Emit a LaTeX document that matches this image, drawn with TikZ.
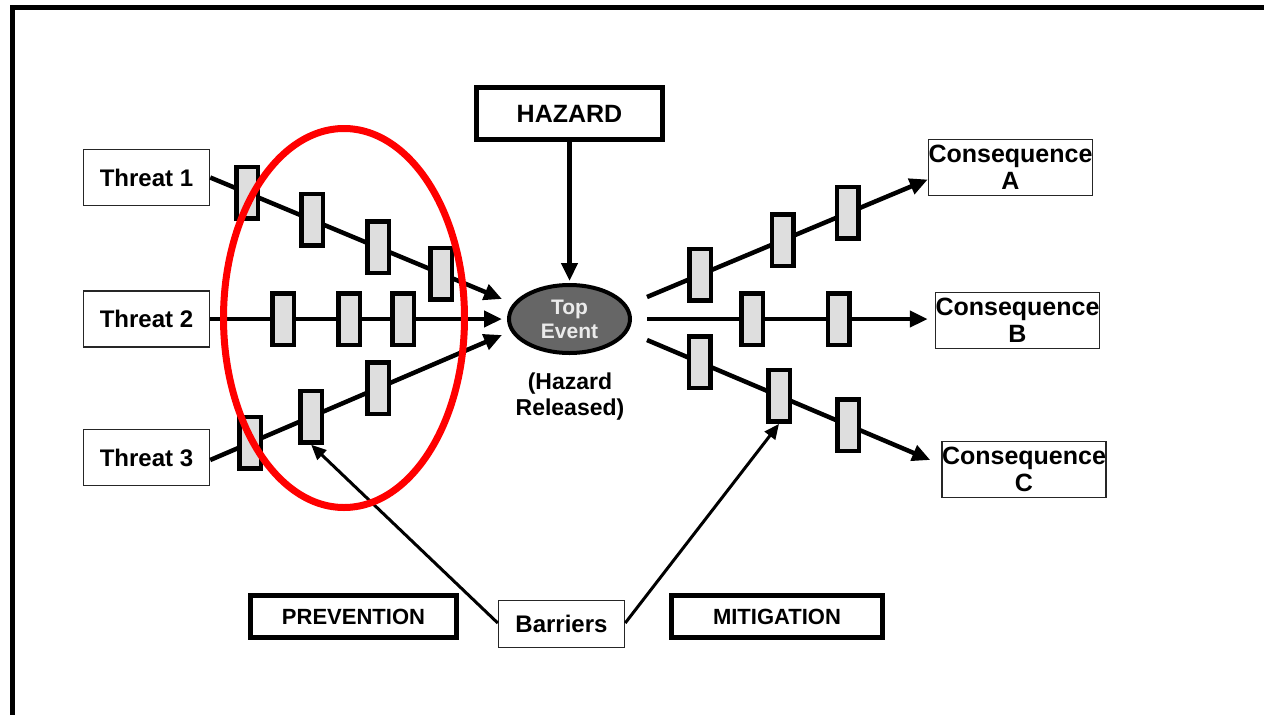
\documentclass[tikz,border=0pt]{standalone}
\usepackage{fontspec}
\setmainfont{Liberation Sans}
\usetikzlibrary{arrows.meta,shapes.geometric}
\begin{document}
\begin{tikzpicture}[x=1pt,y=-1pt,
  thinbox/.style={draw=black!85, line width=1.5pt, fill=white, inner sep=0pt, align=center,
    font=\fontsize{24}{27}\selectfont\bfseries},
  threatbox/.style={thinbox, minimum width=126pt, minimum height=56pt},
  consbox/.style={thinbox, minimum width=164pt, minimum height=56pt,
    font=\fontsize{25}{27}\selectfont\bfseries},
  boldbox/.style={draw, line width=5pt, fill=white, inner sep=0pt,
    font=\fontsize{22}{26}\selectfont\bfseries},
  barrier/.style={draw, line width=4.5pt, fill=black!13, minimum width=21.5pt,
    minimum height=51.5pt, inner sep=0pt},
  flow/.style={line width=4.5pt, -{Triangle[length=18pt,width=16pt]}},
  pointer/.style={line width=3pt, -{Triangle[length=15pt,width=13pt]}},
  plain/.style={font=\fontsize{23}{26}\selectfont\bfseries, align=center, inner sep=0pt}
]
\useasboundingbox (0,0) rectangle (1264,715);
\fill[white] (0,0) rectangle (1264,715);

% frame
\draw[line width=5pt] (12.5,720) -- (12.5,7) -- (1270,7);

% nodes
\node[threatbox] (t1) at (146.5,177.5) {Threat 1};
\node[threatbox] (t2) at (146.5,319) {Threat 2};
\node[threatbox] (t3) at (146.5,457.5) {Threat 3};

\node[boldbox, minimum width=186pt, minimum height=52pt, font=\fontsize{25}{28}\selectfont\bfseries]
  (haz) at (569.5,113.5) {HAZARD};

\node[ellipse, draw, line width=4pt, fill=black!60, minimum width=121pt, minimum height=68pt,
  inner sep=0pt, text=black!8, align=center, font=\fontsize{21}{24}\selectfont\bfseries]
  (top) at (569.5,319) {Top\\Event};

\node[plain] (rel) at (570,397) {(Hazard\\Released)};

\node[consbox] (cA) at (1010.5,167.5) {Consequence\\A};
\node[consbox] (cB) at (1017.5,320.5) {Consequence\\B};
\node[consbox] (cC) at (1024,469.5) {Consequence\\C};

\node[boldbox, minimum width=206pt, minimum height=42pt] (prev) at (353.5,616.5) {PREVENTION};
\node[boldbox, minimum width=211pt, minimum height=42pt] (mit) at (777,616.5) {MITIGATION};
\node[thinbox, minimum width=126pt, minimum height=47pt] (bar) at (561.5,624) {Barriers};

% hazard arrow
\draw[flow, shorten >=2pt] (haz.south) -- (top.north);

% threat lines with barriers
\draw[flow] (t1.east) -- ([xshift=-5pt,yshift=20pt]top.west)
  node[barrier,pos=.127] (b11) {}
  node[barrier,pos=.349] (b12) {}
  node[barrier,pos=.575] (b13) {}
  node[barrier,pos=.791] (b14) {};
\draw[flow] (t2.east) -- ([xshift=-5pt]top.west)
  node[barrier,pos=.25] (b21) {}
  node[barrier,pos=.476] (b22) {}
  node[barrier,pos=.661] (b23) {};
\draw[flow] ([yshift=-2.5pt]t3.east) -- ([xshift=-5pt,yshift=-16pt]top.west)
  node[barrier,pos=.137] (b31) {}
  node[barrier,pos=.346] (b32) {}
  node[barrier,pos=.575] (b33) {};

% consequence lines with barriers
\draw[flow] ([xshift=15pt,yshift=22pt]top.east) -- ([yshift=-12pt]cA.west)
  node[barrier,pos=.189] (ra1) {}
  node[barrier,pos=.484] (ra2) {}
  node[barrier,pos=.715] (ra3) {};
\draw[flow] ([xshift=15pt]top.east) -- ([xshift=-7pt,yshift=1.5pt]cB.west)
  node[barrier,pos=.374] (rb1) {}
  node[barrier,pos=.683] (rb2) {};
\draw[flow] ([xshift=15pt,yshift=-21pt]top.east) -- ([xshift=-11pt,yshift=9.5pt]cC.west)
  node[barrier,pos=.187] (rc1) {}
  node[barrier,pos=.466] (rc2) {}
  node[barrier,pos=.710] (rc3) {};

% barrier pointers
\draw[pointer] ([yshift=1pt]bar.west) -- (b32.south);
\draw[pointer] ([yshift=1pt]bar.east) -- (rc2.south);

% red highlight ellipse
\draw[red, line width=7pt] (344,318) ellipse [x radius=120.5pt, y radius=189.5pt];
\end{tikzpicture}
\end{document}
